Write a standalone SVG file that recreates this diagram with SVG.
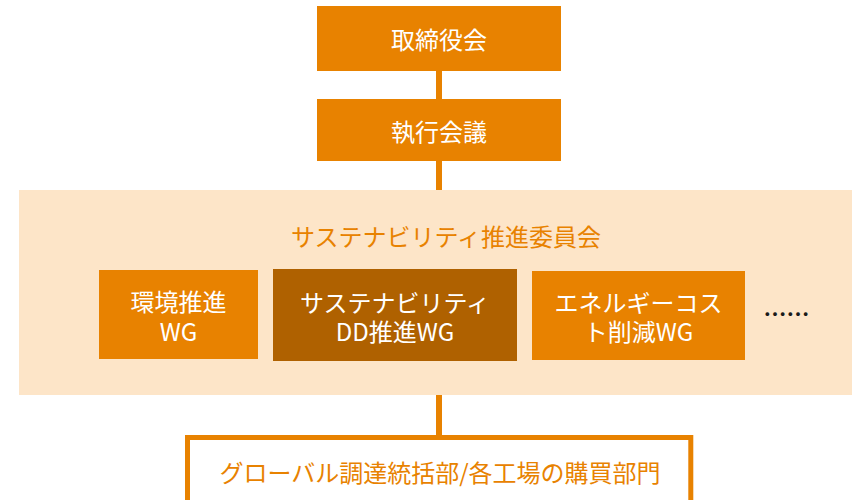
<svg xmlns="http://www.w3.org/2000/svg" width="856" height="500" viewBox="0 0 856 500">
<style>
.box{fill:#E88200}
.dark{fill:#AF6100}
.panel{fill:#FDE5C8}
.t{font-family:"Noto Sans CJK JP","Noto Sans",sans-serif;font-size:24px;text-anchor:middle;dominant-baseline:central}
.w{fill:#FFFFFF}
.o{fill:#E88200}
.conn{stroke:#E88200;stroke-width:6;fill:none}
</style>
<rect width="856" height="500" fill="#FFFFFF"/>
<g id="connectors">
<line class="conn" x1="439" y1="71" x2="439" y2="99"/>
<line class="conn" x1="439" y1="161" x2="439" y2="190"/>
<line class="conn" x1="439" y1="395" x2="439" y2="437"/>
</g>
<g id="board">
<rect class="box" x="317" y="6" width="244" height="65"/>
<text class="t w" x="439" y="38.5">取締役会</text>
</g>
<g id="exec">
<rect class="box" x="317" y="99" width="244" height="62"/>
<text class="t w" x="439" y="130">執行会議</text>
</g>
<g id="committee">
<rect class="panel" x="19" y="190" width="833" height="205"/>
<text class="t o" x="446" y="235">サステナビリティ推進委員会</text>
</g>
<g id="wg-env">
<rect class="box" x="99" y="270" width="159" height="89"/>
<text class="t w" x="178.5" y="300">環境推進</text>
<text class="t w" x="178.5" y="330">WG</text>
</g>
<g id="wg-dd">
<rect class="dark" x="273" y="269" width="244" height="92"/>
<text class="t w" x="395" y="301">サステナビリティ</text>
<text class="t w" x="395" y="330">DD推進WG</text>
</g>
<g id="wg-energy">
<rect class="box" x="532" y="271" width="213" height="89"/>
<text class="t w" x="638.5" y="301">エネルギーコス</text>
<text class="t w" x="638.5" y="330">ト削減WG</text>
</g>
<g id="more">
<text x="786.5" y="313" font-family="'Noto Sans CJK JP','Noto Sans',sans-serif" font-size="23" font-weight="bold" fill="#1A1A1A" text-anchor="middle" dominant-baseline="central">……</text>
</g>
<g id="procurement">
<path d="M187.5 505 V437.5 H690.8 V505" fill="#FFFFFF" stroke="#E88200" stroke-width="5"/>
<text class="t o" x="440" y="471">グローバル調達統括部/各工場の購買部門</text>
</g>
</svg>
